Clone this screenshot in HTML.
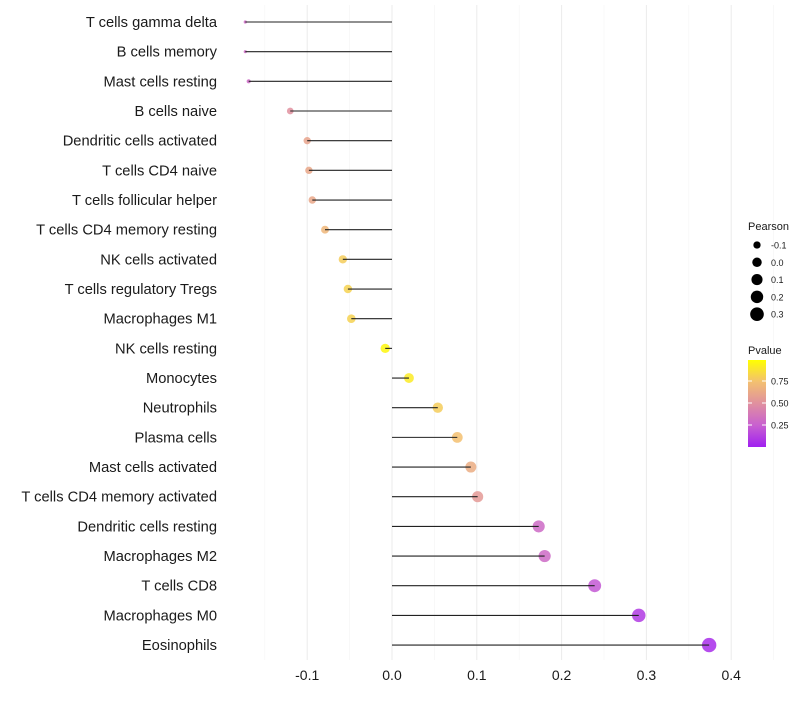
<!DOCTYPE html>
<html><head><meta charset="utf-8"><style>
body{margin:0;background:#fff;font-family:"Liberation Sans",sans-serif}
</style></head><body>
<svg id="chart" width="800" height="700" xmlns="http://www.w3.org/2000/svg" font-family="Liberation Sans, sans-serif">
<g id="grid"></g>
<g id="marks"></g>
<g id="ylabels"></g>
<g id="xlabels"></g>
<g id="legend"></g>
</svg>
<script>
const categories=["T cells gamma delta","B cells memory","Mast cells resting","B cells naive","Dendritic cells activated","T cells CD4 naive","T cells follicular helper","T cells CD4 memory resting","NK cells activated","T cells regulatory  Tregs","Macrophages M1","NK cells resting","Monocytes","Neutrophils","Plasma cells","Mast cells activated","T cells CD4 memory activated","Dendritic cells resting","Macrophages M2","T cells CD8","Macrophages M0","Eosinophils"];
const pearson=[-0.173,-0.173,-0.169,-0.120,-0.100,-0.098,-0.094,-0.079,-0.058,-0.052,-0.048,-0.008,0.020,0.054,0.077,0.093,0.101,0.173,0.180,0.239,0.291,0.374];
const pvalues=[0.3,0.3,0.3,0.5,0.6,0.62,0.62,0.7,0.8,0.82,0.82,0.97,0.92,0.8,0.75,0.65,0.55,0.3,0.3,0.22,0.1,0.05];
const xTicks=[-0.1,0,0.1,0.2,0.3,0.4];
const xTickLabels=["-0.1","0.0","0.1","0.2","0.3","0.4"];
const legendSizes=[-0.1,0.0,0.1,0.2,0.3];
const legendSizeLabels=["-0.1","0.0","0.1","0.2","0.3"];
const pTicks=[0.25,0.5,0.75];
const pTickLabels=["0.25","0.50","0.75"];

const NS="http://www.w3.org/2000/svg";
const x=v=>392+v*848;
const y=i=>22+i*29.67;
const rad=v=>1.6+5.6*Math.sqrt(Math.max(0,(v+0.173)/0.547));
const stops=[[0,[160,32,240]],[0.25,[200,96,208]],[0.5,[224,144,159]],[0.75,[243,192,112]],[1,[255,255,0]]];
function col(p){p=Math.max(0,Math.min(1,p));for(let k=1;k<stops.length;k++){if(p<=stops[k][0]){const a=stops[k-1],b=stops[k];const t=(p-a[0])/(b[0]-a[0]);const c=a[1].map((v,j)=>Math.round(v+(b[1][j]-v)*t));return`rgb(${c})`;}}return"rgb(255,255,0)";}
function mk(tag,attrs,parent){const e=document.createElementNS(NS,tag);for(const k in attrs)e.setAttribute(k,attrs[k]);parent.appendChild(e);return e;}

const grid=document.getElementById('grid');
for(let v=-0.15;v<=0.451;v+=0.05){const major=Math.abs(Math.round(v*20)%2)===0;
const l=mk('line',{x1:x(v),x2:x(v),y1:5,y2:660,stroke:major?'#ebebeb':'#f4f4f4','stroke-width':major?1:0.6},grid);

}

const marks=document.getElementById('marks');
const yl=document.getElementById('ylabels');
categories.forEach((c,i)=>{
const v=pearson[i];
const pt=mk('circle',{cx:x(v),cy:y(i),r:rad(v),fill:col(pvalues[i]),'fill-opacity':0.85},marks);


const sg=mk('line',{x1:x(0),x2:x(v),y1:y(i),y2:y(i),stroke:'#222','stroke-width':1.1},marks);


const t=mk('text',{x:217,y:y(i)+5,'text-anchor':'end','font-size':14.7,fill:'#1a1a1a'},yl);
t.textContent=c;


});
const xl=document.getElementById('xlabels');
xTicks.forEach((v,i)=>{const t=mk('text',{x:x(v),y:680,'text-anchor':'middle','font-size':14,fill:'#1a1a1a'},xl);
t.textContent=xTickLabels[i];

});

const lg=document.getElementById('legend');
const t1=mk('text',{x:748,y:230,'font-size':11,fill:'#1a1a1a'},lg);t1.textContent='Pearson';


legendSizes.forEach((v,i)=>{const cy=245+i*17.3;
const c=mk('circle',{cx:757,cy:cy,r:rad(v),fill:'#000'},lg);


const t=mk('text',{x:771,y:cy+3.5,'font-size':9,fill:'#1a1a1a'},lg);t.textContent=legendSizeLabels[i];

});
const t2=mk('text',{x:748,y:354,'font-size':11,fill:'#1a1a1a'},lg);t2.textContent='Pvalue';


const defs=mk('defs',{},lg);const gr=mk('linearGradient',{id:'pg',x1:0,y1:1,x2:0,y2:0},defs);
stops.forEach(s=>mk('stop',{offset:s[0],'stop-color':col(s[0])},gr));
const bar=mk('rect',{x:748,y:360,width:18,height:87,fill:'url(#pg)'},lg);


pTicks.forEach((p,i)=>{const yy=447-p*88;
mk('line',{x1:748,x2:752,y1:yy,y2:yy,stroke:'#fff'},lg);mk('line',{x1:762,x2:766,y1:yy,y2:yy,stroke:'#fff'},lg);
const t=mk('text',{x:771,y:yy+3.5,'font-size':9,fill:'#1a1a1a'},lg);t.textContent=pTickLabels[i];

});
</script>
</body></html>
